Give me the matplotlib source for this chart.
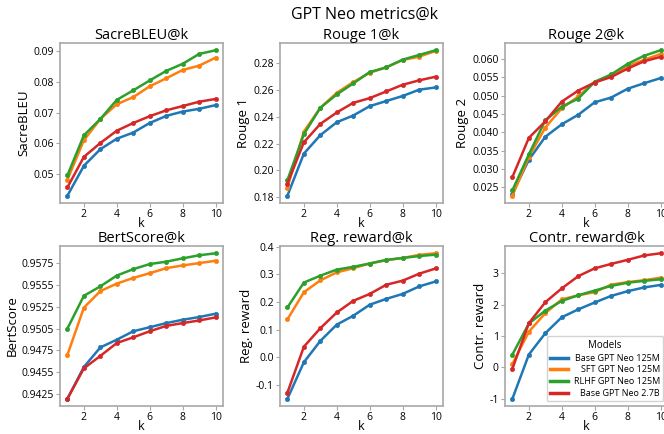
import numpy as np
import matplotlib
matplotlib.use("Agg")
import matplotlib.pyplot as plt
from matplotlib.lines import Line2D
from matplotlib.ticker import MultipleLocator

plt.rcParams['font.family'] = ['Open Sans', 'DejaVu Sans']
plt.rcParams['axes.unicode_minus'] = False

k = [1, 2, 3, 4, 5, 6, 7, 8, 9, 10]
models = ['Base GPT Neo 125M', 'SFT GPT Neo 125M', 'RLHF GPT Neo 125M', 'Base GPT Neo 2.7B']
colors = ['#1f77b4', '#ff7f0e', '#2ca02c', '#d62728']

# SacreBLEU@k
sacrebleu_base = [0.0430, 0.0527, 0.0581, 0.0615, 0.0635, 0.0666, 0.0689, 0.0703, 0.0712, 0.0724]
sacrebleu_sft = [0.0482, 0.0610, 0.0679, 0.0727, 0.0750, 0.0785, 0.0811, 0.0838, 0.0852, 0.0878]
sacrebleu_rlhf = [0.0496, 0.0626, 0.0679, 0.0741, 0.0772, 0.0804, 0.0835, 0.0858, 0.0890, 0.0902]
sacrebleu_27b = [0.0457, 0.0556, 0.0601, 0.0641, 0.0666, 0.0688, 0.0707, 0.0721, 0.0735, 0.0744]

# Rouge 1@k
rouge1_base = [0.181, 0.2125, 0.2263, 0.236, 0.241, 0.248, 0.2518, 0.2556, 0.2603, 0.262]
rouge1_sft = [0.187, 0.229, 0.2468, 0.258, 0.266, 0.273, 0.277, 0.2825, 0.285, 0.2893]
rouge1_rlhf = [0.1927, 0.227, 0.2468, 0.2568, 0.265, 0.2735, 0.277, 0.2828, 0.2863, 0.2898]
rouge1_27b = [0.190, 0.221, 0.2347, 0.2433, 0.2505, 0.254, 0.259, 0.264, 0.2673, 0.270]

# Rouge 2@k
rouge2_base = [0.0233, 0.0325, 0.0388, 0.0422, 0.0448, 0.0482, 0.0495, 0.0519, 0.0534, 0.0548]
rouge2_sft = [0.0227, 0.0333, 0.0413, 0.0466, 0.0498, 0.0538, 0.0555, 0.0581, 0.0598, 0.0614]
rouge2_rlhf = [0.0242, 0.0340, 0.0433, 0.0470, 0.0492, 0.0538, 0.0558, 0.0587, 0.0609, 0.0624]
rouge2_27b = [0.0278, 0.0385, 0.0430, 0.0484, 0.0514, 0.0536, 0.0551, 0.0574, 0.0594, 0.0606]

# BertScore@k
bert_base = [0.9420, 0.94562, 0.94785, 0.94873, 0.94969, 0.95015, 0.95062, 0.9510, 0.95131, 0.95169]
bert_sft = [0.9470, 0.95238, 0.95427, 0.95512, 0.95577, 0.95631, 0.95688, 0.95719, 0.95746, 0.95773]
bert_rlhf = [0.9500, 0.95373, 0.95481, 0.95604, 0.95677, 0.95735, 0.95762, 0.95800, 0.95835, 0.95858]
bert_27b = [0.9420, 0.94546, 0.94688, 0.94835, 0.9490, 0.94969, 0.9503, 0.95062, 0.95092, 0.95127]
bert_ticks = [0.9425, 0.9450, 0.9475, 0.9500, 0.9525, 0.9550, 0.9575]
bert_ticklabels = ['0.9425', '0.9455', '0.9475', '0.9505', '0.9525', '0.9555', '0.9575']

# Reg. reward@k
reg_base = [-0.150, -0.018, 0.059, 0.118, 0.150, 0.190, 0.211, 0.229, 0.256, 0.274]
reg_sft = [0.137, 0.235, 0.278, 0.307, 0.322, 0.339, 0.351, 0.359, 0.370, 0.376]
reg_rlhf = [0.180, 0.270, 0.295, 0.317, 0.327, 0.339, 0.352, 0.359, 0.366, 0.371]
reg_27b = [-0.128, 0.038, 0.105, 0.162, 0.204, 0.229, 0.262, 0.277, 0.302, 0.321]

# Contr. reward@k
contr_base = [-1.0, 0.41, 1.09, 1.60, 1.85, 2.07, 2.28, 2.43, 2.55, 2.63]
contr_sft = [0.11, 1.14, 1.73, 2.17, 2.30, 2.40, 2.64, 2.72, 2.78, 2.86]
contr_rlhf = [0.41, 1.40, 1.81, 2.12, 2.30, 2.45, 2.60, 2.70, 2.76, 2.81]
contr_27b = [-0.04, 1.41, 2.08, 2.52, 2.91, 3.16, 3.30, 3.43, 3.57, 3.64]

panels = [
    ('SacreBLEU@k', 'SacreBLEU', [sacrebleu_base, sacrebleu_sft, sacrebleu_rlhf, sacrebleu_27b]),
    ('Rouge 1@k', 'Rouge 1', [rouge1_base, rouge1_sft, rouge1_rlhf, rouge1_27b]),
    ('Rouge 2@k', 'Rouge 2', [rouge2_base, rouge2_sft, rouge2_rlhf, rouge2_27b]),
    ('BertScore@k', 'BertScore', [bert_base, bert_sft, bert_rlhf, bert_27b]),
    ('Reg. reward@k', 'Reg. reward', [reg_base, reg_sft, reg_rlhf, reg_27b]),
    ('Contr. reward@k', 'Contr. reward', [contr_base, contr_sft, contr_rlhf, contr_27b]),
]

fig = plt.figure(figsize=(6.64, 4.34), dpi=100)
W, H = 664, 434
lefts = [60, 280, 505]
tops = [43, 246]
aw, ah = 163, 160
spine_col = '#a8a8a8'

axes = []
for i, (title, ylabel, series) in enumerate(panels):
    r, c = divmod(i, 3)
    ax = fig.add_axes([lefts[c] / W, 1 - (tops[r] + ah) / H, aw / W, ah / H])
    for s, col in zip(series, colors):
        ax.plot(k, s, color=col, lw=1.8, marker='o', ms=3, mec=col, mew=0.5)
    ax.set_title(title, fontsize=10.5, pad=2)
    ax.set_ylabel(ylabel, fontsize=9.5, labelpad=2)
    ax.set_xlabel('k', fontsize=9, labelpad=-2)
    ax.set_xticks([2, 4, 6, 8, 10])
    ax.tick_params(labelsize=7.5, length=3, width=0.8, color=spine_col, pad=1.5)
    for sp in ax.spines.values():
        sp.set_color(spine_col)
        sp.set_linewidth(1.2)
    axes.append(ax)

axes[2].yaxis.set_major_locator(MultipleLocator(0.005))
axes[2].yaxis.set_major_formatter(lambda v, p: f'{v:.3f}')
axes[3].set_yticks(bert_ticks)
axes[3].set_yticklabels(bert_ticklabels)

handles = [Line2D([0], [0], color=col, lw=2.5) for col in colors]
leg = axes[5].legend(handles, models, title='Models', loc='lower right', fontsize=6.5,
                     title_fontsize=7, frameon=True, fancybox=True, handlelength=2.0,
                     borderaxespad=0.5, labelspacing=0.3, borderpad=0.4, handletextpad=0.6)
leg.get_frame().set_edgecolor('#c8c8c8')
renderer = fig.canvas.get_renderer()
widths = [t.get_window_extent(renderer).width for t in leg.get_texts()]
shift = max(widths)
for t, w in zip(leg.get_texts(), widths):
    t.set_position((shift - w, 0))

fig.text(365 / W, 1 - 15 / H, 'GPT Neo metrics@k', ha='center', va='center', fontsize=11.5)

fig.savefig('out.png', dpi=100)
